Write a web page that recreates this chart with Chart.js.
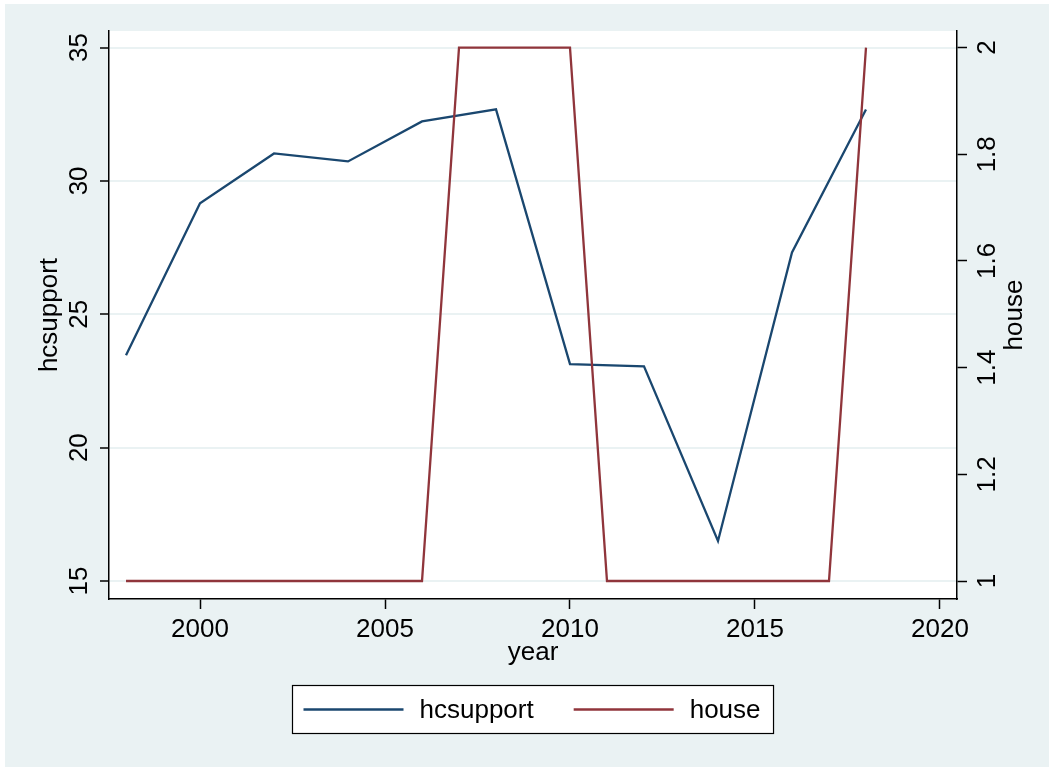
<!DOCTYPE html>
<html>
<head>
<meta charset="utf-8">
<title>hcsupport and house by year</title>
<script src="https://cdn.jsdelivr.net/npm/chart.js@4"></script>
<style>
  html, body { margin: 0; padding: 0; background: #fff; }
  canvas { display: block; }
</style>
</head>
<body>
<canvas id="chart" width="1049" height="767"></canvas>
<script>
// data
const hcYears = [1998, 2000, 2002, 2004, 2006, 2008, 2010, 2012, 2014, 2016, 2018];
const hcsupport = [23.46, 29.16, 31.03, 30.73, 32.23, 32.68, 23.13, 23.05, 16.50, 27.32, 32.68];
const houseYears = [1998, 1999, 2000, 2001, 2002, 2003, 2004, 2005, 2006, 2007, 2008,
                    2009, 2010, 2011, 2012, 2013, 2014, 2015, 2016, 2017, 2018];
const house = [1, 1, 1, 1, 1, 1, 1, 1, 1, 2, 2, 2, 2, 1, 1, 1, 1, 1, 1, 1, 2];

const xTicks = [2000, 2005, 2010, 2015, 2020];
const leftTicks = [15, 20, 25, 30, 35];
const rightTicks = [1, 1.2, 1.4, 1.6, 1.8, 2];

const NAVY = "#1a476f";
const MAROON = "#90353b";
const BG = "#eaf2f3";
const FONT = "'Liberation Sans', Arial, sans-serif";
const FS = 26;

const pts = (xs, ys) => xs.map((x, i) => ({ x, y: ys[i] }));
const fixTicks = (list) => (scale) => { scale.ticks = list.map(v => ({ value: v })); };

// backgrounds, custom legend and right axis title
const stataLook = {
  id: "stataLook",
  beforeDraw(chart) {
    const { ctx, width, height, chartArea: a } = chart;
    ctx.save();
    ctx.fillStyle = "#fff";
    ctx.fillRect(0, 0, width, height);
    ctx.fillStyle = BG;
    ctx.fillRect(5, 4, width - 5, height - 4);
    ctx.fillStyle = "#fff";
    ctx.fillRect(a.left, a.top, a.right - a.left, a.bottom - a.top);
    ctx.restore();
  },
  afterDraw(chart) {
    const { ctx, chartArea: a } = chart;
    ctx.save();
    ctx.font = FS + "px " + FONT;
    ctx.fillStyle = "#000";

    // right title, reading bottom to top
    ctx.save();
    ctx.translate(1022, (a.top + a.bottom) / 2);
    ctx.rotate(-Math.PI / 2);
    ctx.textAlign = "center";
    ctx.textBaseline = "alphabetic";
    ctx.fillText("house", 0, 0);
    ctx.restore();

    // legend
    const items = chart.data.datasets.map(ds => ({
      label: ds.label, color: ds.borderColor, w: ctx.measureText(ds.label).width
    }));
    const sample = 100, gapText = 16, gapItem = 40, pad = 11;
    let total = 0;
    items.forEach((it, i) => { total += sample + gapText + it.w + (i ? gapItem : 0); });
    const boxW = total + pad * 2 + 2;
    const boxL = Math.round((a.left + a.right) / 2 - boxW / 2) + 0.5;
    const boxT = 685.5, boxH = 48;
    ctx.fillStyle = "#fff";
    ctx.fillRect(boxL, boxT, boxW, boxH);
    ctx.strokeStyle = "#000";
    ctx.lineWidth = 1.2;
    ctx.strokeRect(boxL, boxT, boxW, boxH);
    let x = boxL + pad;
    const midY = boxT + boxH / 2;
    items.forEach((it) => {
      ctx.strokeStyle = it.color;
      ctx.lineWidth = 2.3;
      ctx.beginPath();
      ctx.moveTo(x, midY);
      ctx.lineTo(x + sample, midY);
      ctx.stroke();
      x += sample + gapText;
      ctx.fillStyle = "#000";
      ctx.textAlign = "left";
      ctx.textBaseline = "middle";
      ctx.fillText(it.label, x, midY + 1);
      x += it.w + gapItem;
    });
    ctx.restore();
  }
};

new Chart(document.getElementById("chart"), {
  type: "line",
  data: {
    datasets: [
      {
        label: "hcsupport",
        data: pts(hcYears, hcsupport),
        yAxisID: "y",
        borderColor: NAVY,
        borderWidth: 2.3,
        pointRadius: 0,
        tension: 0,
        fill: false,
        order: 2
      },
      {
        label: "house",
        data: pts(houseYears, house),
        yAxisID: "y2",
        borderColor: MAROON,
        borderWidth: 2.3,
        pointRadius: 0,
        tension: 0,
        fill: false,
        order: 1
      }
    ]
  },
  options: {
    responsive: false,
    animation: false,
    layout: { padding: { left: 0, right: 0, top: 31, bottom: 97 } },
    plugins: {
      legend: { display: false },
      tooltip: { enabled: false }
    },
    scales: {
      x: {
        type: "linear",
        position: "bottom",
        min: 1997.54,
        max: 2020.46,
        afterBuildTicks: fixTicks(xTicks),
        afterFit: (s) => { s.height = 71; },
        border: { color: "#000", width: 1.5 },
        grid: { drawOnChartArea: false, tickLength: 10, tickColor: "#000", tickWidth: 1.5 },
        ticks: {
          color: "#000",
          font: { family: FONT, size: FS },
          padding: 5,
          maxRotation: 0,
          callback: (v) => String(v)
        },
        title: {
          display: true,
          text: "year",
          color: "#000",
          font: { family: FONT, size: FS },
          padding: { top: 0, bottom: 2 }
        }
      },
      y: {
        type: "linear",
        position: "left",
        min: 14.325,
        max: 35.62,
        afterBuildTicks: fixTicks(leftTicks),
        afterFit: (s) => { s.width = 109; },
        border: { color: "#000", width: 1.5 },
        grid: { color: BG, lineWidth: 2, tickLength: 9, tickColor: "#000", tickWidth: 1.5 },
        ticks: {
          color: "#000",
          font: { family: FONT, size: FS },
          minRotation: 90,
          maxRotation: 90,
          crossAlign: "center",
          padding: 6,
          callback: (v) => String(v)
        },
        title: {
          display: true,
          text: "hcsupport",
          color: "#000",
          font: { family: FONT, size: FS },
          padding: { top: 34, bottom: 0 }
        }
      },
      y2: {
        type: "linear",
        position: "right",
        min: 0.9663,
        max: 2.0311,
        afterBuildTicks: fixTicks(rightTicks),
        afterFit: (s) => { s.width = 92; },
        border: { color: "#000", width: 1.5 },
        grid: { drawOnChartArea: false, tickLength: 10, tickColor: "#000", tickWidth: 1.5 },
        ticks: {
          color: "#000",
          font: { family: FONT, size: FS },
          minRotation: 90,
          maxRotation: 90,
          crossAlign: "center",
          padding: 3,
          callback: (v) => String(v)
        }
      }
    }
  },
  plugins: [stataLook]
});
</script>
</body>
</html>
